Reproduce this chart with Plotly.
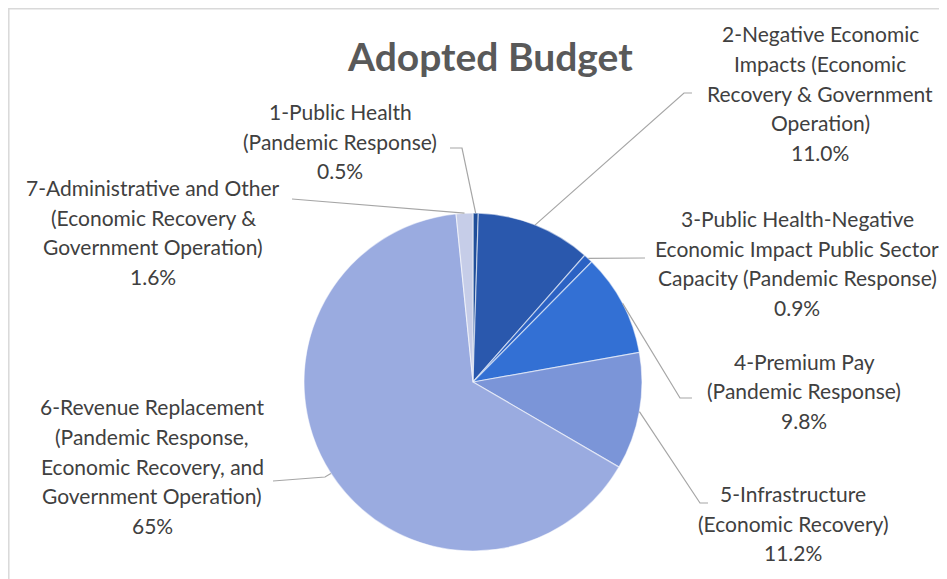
import math
import plotly.graph_objects as go

W, H = 947, 579
OFF = 8  # page body margin of the browser

categories = [
    "1-Public Health<br>(Pandemic Response)",
    "2-Negative Economic<br>Impacts (Economic<br>Recovery & Government<br>Operation)",
    "3-Public Health-Negative<br>Economic Impact Public Sector<br>Capacity (Pandemic Response)",
    "4-Premium Pay<br>(Pandemic Response)",
    "5-Infrastructure<br>(Economic Recovery)",
    "6-Revenue Replacement<br>(Pandemic Response,<br>Economic Recovery, and<br>Government Operation)",
    "7-Administrative and Other<br>(Economic Recovery &<br>Government Operation)",
]
values = [0.5, 11.0, 0.9, 9.8, 11.2, 65.0, 1.6]
pct_labels = ["0.5%", "11.0%", "0.9%", "9.8%", "11.2%", "65%", "1.6%"]
colors = ["#1f4e9a", "#2a58ad", "#2b62c4", "#3370d4", "#7b95d8", "#9aabe0", "#c6cde8"]

# pie geometry (window pixels)
cx, cy, r = 473, 382, 169
LINE_H = 29.6

# label anchor (text centre x, centre y) and leader elbow / end points, window pixels
label_pos = [(340, 141), (820, 93), (797, 263), (804, 391), (793, 523), (152, 466), (153, 232)]
leader_pts = [
    [(462, 148), (450, 148)],
    [(684, 93), (692, 93)],
    [(645, 258)],
    [(680, 398), (692, 398)],
    [(700, 503), (708, 503)],
    [(325, 477), (273, 481)],
    [(292, 199)],
]

def px(x):
    return (x - OFF) / W

def py(y):
    return 1 - (y - OFF) / H

fig = go.Figure()
fig.add_trace(go.Pie(
    labels=[c.replace("<br>", " ") for c in categories],
    values=values,
    sort=False,
    direction="clockwise",
    rotation=0,
    textinfo="none",
    hoverinfo="label+percent",
    marker=dict(colors=colors, line=dict(color="rgba(255,255,255,0.55)", width=1.2)),
    domain=dict(x=[px(cx - r), px(cx + r)], y=[py(cy + r), py(cy - r)]),
    showlegend=False,
))

shapes = [dict(type="rect", xref="paper", yref="paper",
               x0=px(8.8), y0=py(8.8), x1=px(990), y1=py(620),
               line=dict(color="#d9d9d9", width=1.5), fillcolor="rgba(0,0,0,0)")]
annotations = []
total = sum(values)
cum = 0.0
for i, v in enumerate(values):
    mid = (cum + v / 2) / total * 2 * math.pi
    cum += v
    ex, ey = cx + r * math.sin(mid), cy - r * math.cos(mid)
    pts = [(ex, ey)] + leader_pts[i]
    path = "M " + " L ".join(f"{px(x):.5f},{py(y):.5f}" for x, y in pts)
    shapes.append(dict(type="path", xref="paper", yref="paper", path=path,
                       line=dict(color="#a6a6a6", width=1.2)))
    lx, ly = label_pos[i]
    lines = categories[i].split("<br>") + [pct_labels[i]]
    n = len(lines)
    for k, line in enumerate(lines):
        annotations.append(dict(
            x=px(lx), y=py(ly + (k - (n - 1) / 2) * LINE_H), xref="paper", yref="paper",
            text=line,
            showarrow=False, xanchor="center", yanchor="middle", align="center",
            font=dict(family="Lato, Carlito, sans-serif", size=21, color="#404040"),
        ))

annotations.append(dict(
    x=px(490), y=py(56), xref="paper", yref="paper", text="<b>Adopted Budget</b>",
    showarrow=False, xanchor="center", yanchor="middle",
    font=dict(family="Lato, Carlito, sans-serif", size=39, color="#595959"),
))

fig.update_layout(
    width=W, height=H,
    margin=dict(l=0, r=0, t=0, b=0),
    paper_bgcolor="white", plot_bgcolor="white",
    shapes=shapes, annotations=annotations,
)

fig.write_html("out.html")
